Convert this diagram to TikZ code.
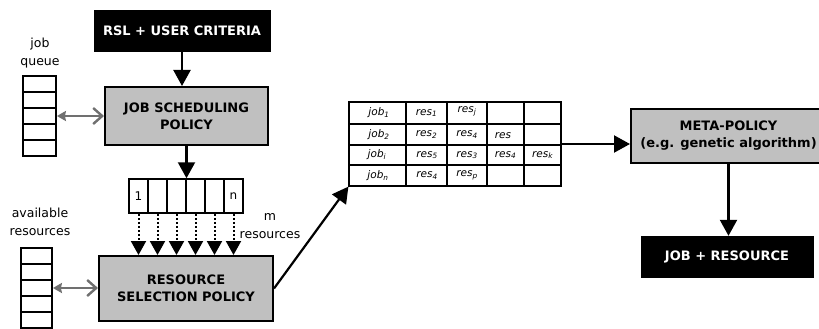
\documentclass[tikz,border=0pt]{standalone}
\usepackage{fontspec}
\setmainfont{DejaVu Sans}
\usetikzlibrary{arrows.meta}
\definecolor{boxgray}{HTML}{C0C0C0}
\definecolor{arrgray}{HTML}{707070}
\tikzset{
  blackbox/.style={draw=black, fill=black, text=white, font=\fontsize{13}{15}\selectfont\bfseries, inner sep=0pt, align=center},
  graybox/.style={draw=black, line width=2pt, fill=boxgray, font=\fontsize{13}{17}\selectfont\bfseries, inner sep=0pt, align=center},
  qcell/.style={draw=black, line width=1.8pt, inner sep=0pt},
  acell/.style={draw=black, line width=1.5pt, inner sep=0pt, minimum width=19pt, minimum height=34pt, font=\fontsize{12}{14}\selectfont},
  lbl/.style={font=\fontsize{12.5}{18}\selectfont, align=center, inner sep=0pt},
  tcell/.style={font=\fontsize{10.5}{12}\selectfont\itshape, inner sep=0pt},
  mainarrow/.style={draw=black, line width=2.2pt, -{Triangle[width=17pt,length=16pt]}},
  dotarrow/.style={draw=black, line width=2pt, dash pattern=on 2pt off 2pt, -{Triangle[width=15pt,length=14pt]}},
  grayarrow/.style={draw=arrgray, line width=2.4pt, {Stealth[length=9pt,width=10pt,inset=1pt]}-{Straight Barb[length=9pt,width=16pt]}},
}
\begin{document}
\begin{tikzpicture}[x=1pt,y=-1pt]
\useasboundingbox (0,0) rectangle (819,329);
% top boxes
\node[blackbox, minimum width=176pt, minimum height=41pt] (rsl) at (182,30.5) {RSL + USER CRITERIA};
\node[graybox, minimum width=163pt, minimum height=58pt] (jsp) at (186.5,116) {JOB SCHEDULING\\POLICY};
% job queue
\node[lbl] (jqlbl) at (40,53) {job\\queue};
\foreach \i/\y in {1/84,2/100,3/116,4/132,5/148}
  \node[qcell, minimum width=33pt, minimum height=16pt] (q\i) at (39.5,\y) {};
% array of candidates
\node[acell] (c1) at (138.5,196) {1};
\node[acell] (c2) at (157.5,196) {};
\node[acell] (c3) at (176.5,196) {};
\node[acell] (c4) at (195.5,196) {};
\node[acell] (c5) at (214.5,196) {};
\node[acell] (c6) at (233.5,196) {n};
% resource selection policy
\node[graybox, minimum width=174pt, minimum height=65pt] (rsp) at (186,288.5) {RESOURCE\\SELECTION POLICY};
% available resources
\node[lbl] (arlbl) at (40,222) {available\\resources};
\foreach \i/\y in {1/256,2/272,3/288,4/304,5/320}
  \node[qcell, minimum width=31pt, minimum height=16pt] (a\i) at (36.5,\y) {};
% m resources
\node[lbl] (mres) at (270,226) {m\\resources};
% table
\node[draw=black, line width=1.2pt, minimum width=212pt, minimum height=84pt, inner sep=0pt] (tab) at (455,144) {};
\foreach \x in {406,447,487,524}
  \draw[line width=1.2pt] (\x,102) -- (\x,186);
\foreach \y in {124,145,165}
  \draw[line width=1.2pt] (349,\y) -- (561,\y);
\node[tcell] (t11) at (379,113) {job\textsubscript{1}};
\node[tcell] (t12) at (426.5,113) {res\textsubscript{1}};
\node[tcell] (t13) at (467,111) {res\textsubscript{j}};
\node[tcell] (t21) at (379,134.5) {job\textsubscript{2}};
\node[tcell] (t22) at (426.5,134.5) {res\textsubscript{2}};
\node[tcell] (t23) at (467,134.5) {res\textsubscript{4}};
\node[tcell] (t24) at (503,136) {res};
\node[tcell] (t31) at (377,155) {job\textsubscript{i}};
\node[tcell] (t32) at (427,155) {res\textsubscript{5}};
\node[tcell] (t33) at (467,155) {res\textsubscript{3}};
\node[tcell] (t34) at (505.5,155) {res\textsubscript{4}};
\node[tcell] (t35) at (542.5,155) {res\textsubscript{k}};
\node[tcell] (t41) at (378,175.5) {job\textsubscript{n}};
\node[tcell] (t42) at (427,175.5) {res\textsubscript{4}};
\node[tcell] (t43) at (467,175.5) {res\textsubscript{p}};
% meta policy
\node[graybox, minimum width=195pt, minimum height=54pt] (meta) at (728.5,136) {META-POLICY\\(e.g. genetic algorithm)};
\node[blackbox, minimum width=172pt, minimum height=41pt] (jr) at (727,256.5) {JOB + RESOURCE};
% connectors
\draw[mainarrow] (rsl.south) -- (rsl.south |- jsp.north);
\draw[mainarrow] (jsp.south) -- (jsp.south |- c4.north);
\foreach \i in {1,...,6}
  \draw[dotarrow] (c\i.south) -- (c\i.south |- rsp.north);
\draw[grayarrow] (q3.east) -- (q3.east -| jsp.west);
\draw[grayarrow] (a3.east) -- (a3.east -| rsp.west);
\draw[mainarrow] (rsp.east) -- (tab.south west);
\draw[mainarrow] (tab.east) -- (tab.east -| meta.west);
\draw[mainarrow] (meta.south) -- (meta.south |- jr.north);
\end{tikzpicture}
\end{document}
